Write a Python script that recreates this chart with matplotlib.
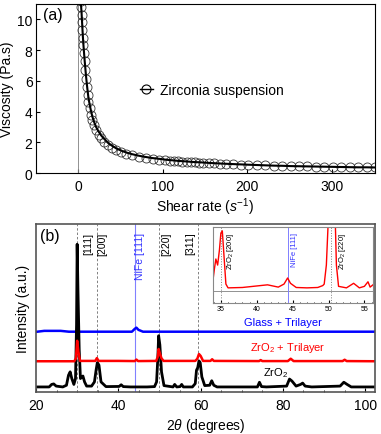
# 画图: (a) viscosity vs shear rate, (b) XRD patterns with inset
import numpy as np
import matplotlib.pyplot as plt
from matplotlib.lines import Line2D

plt.rcParams['font.family'] = ['Liberation Sans', 'DejaVu Sans']
plt.rcParams['mathtext.fontset'] = 'custom'
plt.rcParams['mathtext.rm'] = 'Liberation Sans'
plt.rcParams['mathtext.it'] = 'Liberation Sans:italic'
plt.rcParams['mathtext.bf'] = 'Liberation Sans:bold'

# (a) 粘度数据
shear_rate = [2.8, 3.3, 3.9, 4.4, 4.9, 5.4, 6.0, 6.7, 7.4, 8.2,
              9.0, 9.9, 10.9, 12.0, 13.3, 14.8, 16.5, 18.5, 21, 24,
              27, 31, 35, 40, 45, 51, 57, 64, 72, 80,
              88, 96, 103, 108, 113, 118, 123, 128, 133, 138,
              143, 148, 154, 160, 167, 175, 183, 192, 201, 211,
              221, 231, 241, 251, 261, 271, 281, 291, 301, 311,
              321, 331, 341, 351]
viscosity = [11.2, 10.8, 10.3, 9.8, 9.3, 8.8, 8.3, 7.8, 7.3, 6.7,
             6.1, 5.6, 5.1, 4.6, 4.2, 3.8, 3.45, 3.1, 2.8, 2.5,
             2.25, 2.0, 1.8, 1.62, 1.48, 1.35, 1.24, 1.14, 1.05, 0.98,
             0.92, 0.87, 0.83, 0.80, 0.78, 0.76, 0.74, 0.72, 0.70, 0.69,
             0.67, 0.66, 0.64, 0.63, 0.61, 0.59, 0.57, 0.55, 0.53, 0.51,
             0.50, 0.48, 0.47, 0.45, 0.44, 0.43, 0.42, 0.41, 0.40, 0.39,
             0.38, 0.37, 0.37, 0.36]
viscosity_fit = [11.3, 10.9, 10.4, 9.9, 9.4, 8.9, 8.4, 7.9, 7.4, 6.9,
                 6.4, 5.9, 5.4, 4.9, 4.5, 4.1, 3.7, 3.35, 3.0, 2.7,
                 2.45, 2.2, 1.97, 1.77, 1.6, 1.45, 1.33, 1.22, 1.12, 1.04,
                 0.97, 0.92, 0.87, 0.84, 0.82, 0.79, 0.77, 0.75, 0.73, 0.71,
                 0.70, 0.68, 0.66, 0.64, 0.62, 0.60, 0.58, 0.56, 0.54, 0.52,
                 0.50, 0.48, 0.47, 0.45, 0.44, 0.43, 0.42, 0.41, 0.40, 0.39,
                 0.38, 0.37, 0.37, 0.36]

# (b) XRD 数据 (任意单位)
theta_zro2 = [20, 23.2, 23.8, 24.3, 24.9, 26.5, 27.4, 27.9, 28.3, 28.7,
              29.2, 29.6, 29.85, 30.0, 30.2, 30.5, 30.8, 31.1, 31.4, 31.8,
              32.3, 33.5, 34.2, 34.6, 34.9, 35.3, 35.8, 37.0, 40.2, 40.7,
              41.2, 43.0, 47.0, 48.8, 49.3, 49.6, 49.8, 50.1, 50.5, 51.1,
              53.3, 53.7, 54.2, 55.0, 55.4, 55.8, 58.0, 58.7, 59.0, 59.3,
              59.6, 59.9, 60.3, 61.0, 62.2, 62.7, 63.2, 64.0, 66.0, 73.8,
              74.3, 74.8, 76.0, 80.9, 81.6, 82.2, 83.2, 84.3, 84.8, 85.4,
              87.0, 93.9, 94.8, 95.6, 96.6, 102.4]
int_zro2 = [3, 3, 4.5, 4.8, 3.5, 3, 4, 10, 12, 8,
            4.5, 8, 40, 88, 60, 25, 8, 9, 9.5, 6,
            3.5, 3.5, 6, 13, 17.5, 16, 6, 3.2, 3.3, 4.3,
            3.2, 3, 3, 3.2, 6, 20, 33.5, 28, 12, 3.8,
            3, 4.5, 3, 3.2, 4.5, 3, 3, 5, 13, 14.5,
            18.5, 17.5, 9, 3.8, 4, 6.7, 4, 3, 3, 3,
            5.8, 3.2, 3, 3.5, 7.7, 6.5, 3.5, 4.5, 5.3, 3.5,
            3, 3.5, 5.8, 4.5, 3, 3]

theta_zro2_tri = [20, 29.3, 29.7, 30.0, 30.3, 30.7, 34.4, 34.8, 35.2, 40,
                  44.0, 44.4, 44.8, 49.2, 49.6, 49.8, 50.1, 50.5, 51.0, 58.7,
                  59.2, 59.6, 60.0, 60.6, 62.4, 62.8, 63.2, 74.2, 74.6, 75.0,
                  81.2, 81.9, 82.6, 94.5, 95.0, 95.5, 102.4]
int_zro2_tri = [18.3, 18.3, 20, 30.5, 24, 18.5, 18.5, 20.2, 18.5, 18.5,
                18.4, 19.3, 18.4, 18.5, 21, 25.6, 23, 20, 18.5, 18.5,
                19.8, 22.6, 21.5, 18.5, 18.5, 19.5, 18.5, 18.4, 19.0, 18.4,
                18.4, 19.8, 18.4, 18.4, 19.2, 18.4, 18.3]

theta_glass = [20, 22, 26, 28, 43.3, 44.0, 44.4, 44.9, 46, 102.4]
int_glass = [35.8, 36.4, 36.4, 35.9, 35.9, 37.6, 38.3, 37, 35.9, 35.9]

peak_pos = [30.0, 34.8, 49.8, 59.3]
peak_labels = ['[111]', '[200]', '[220]', '[311]']
peak_label_x = [32.8, 36.2, 51.7, 57.4]
nife_pos = 44.1

# 插图数据
inset_theta = [33.9, 34.1, 34.3, 34.55, 34.8, 35.0, 35.2, 35.45, 35.7, 36.0,
               38.0, 40.0, 41.5, 43.0, 43.8, 44.3, 44.7, 45.5, 47.0, 48.5,
               49.2, 49.4, 49.7, 49.95, 50.5, 50.95, 51.1, 51.4, 52.5, 53.5,
               54.3, 55.0, 55.5, 55.8, 56.2]
inset_int = [30, 45, 58, 50, 70, 92, 95, 60, 25, 20,
             20.5, 22.5, 24, 21, 25, 33, 26, 20.5, 20, 20.5,
             23, 25, 50, 105, 140, 105, 50, 22, 20, 26,
             20, 22, 28, 21, 24]
inset_lines = [35.0, 50.3]
inset_nife = 44.3


def panel_a(ax):
    ax.axvline(0, color='gray', lw=0.6)
    ax.plot(shear_rate, viscosity, 'o', mfc='none', mec='#333333',
            ms=6.5, mew=0.6)
    ax.plot(shear_rate, viscosity_fit, 'k-', lw=1.5)
    ax.set_xlim(-50, 351)
    ax.set_ylim(0, 11)
    ax.set_xticks([0, 100, 200, 300])
    ax.set_yticks([0, 2, 4, 6, 8, 10])
    ax.tick_params(direction='in', length=3, labelsize=10)
    ax.tick_params(axis='x', pad=4.5)
    ax.tick_params(axis='y', pad=2.5)
    ax.set_xlabel('Shear rate ($s^{-1}$)', fontsize=10, labelpad=1.5)
    ax.set_ylabel('Viscosity (Pa.s)', fontsize=10, labelpad=2)
    ax.text(0.02, 0.94, '(a)', transform=ax.transAxes, fontsize=11.5,
            va='center', ha='left')
    h = Line2D([], [], color='k', lw=1, marker='o', mfc='none',
               mec='k', ms=6.5, mew=0.8)
    ax.legend([h], ['Zirconia suspension'], loc='center left',
              bbox_to_anchor=(0.27, 0.49), frameon=False, fontsize=10,
              handlelength=0.9, handletextpad=0.5)


def panel_b(ax):
    tr = ax.get_xaxis_transform()
    for p in peak_pos:
        ax.axvline(p, color='gray', lw=0.7, ls=(0, (2.5, 2)))
    ax.axvline(nife_pos, color='#8080ff', lw=0.8)
    for x, s in zip(peak_label_x, peak_labels):
        ax.text(x, 0.955, s, transform=tr, rotation=90, ha='center',
                va='top', fontsize=7.5)
    ax.text(45.3, 0.955, 'NiFe [111]', transform=tr, rotation=90,
            ha='center', va='top', fontsize=7.5, color='#3333ff')

    ax.plot(theta_glass, int_glass, color='#0000ff', lw=1.8)
    ax.plot(theta_zro2, int_zro2, color='k', lw=2.0)
    ax.plot(theta_zro2_tri, int_zro2_tri, color='#ff0000', lw=1.8)

    ax.text(80.0, 41.8, 'Glass + Trilayer', color='#0000ff', fontsize=8,
            ha='center', va='center')
    ax.text(81.2, 26.6, 'ZrO$_2$ + Trilayer', color='#ff0000', fontsize=8,
            ha='center', va='center')
    ax.text(78.1, 11.7, 'ZrO$_2$', color='k', fontsize=8,
            ha='center', va='center')
    ax.text(0.041, 0.93, '(b)', transform=ax.transAxes, fontsize=11.5,
            va='center', ha='center')

    ax.set_xlim(20, 102.4)
    ax.set_ylim(0, 100)
    ax.set_xticks([20, 40, 60, 80, 100])
    ax.set_xticks(np.arange(25, 102, 5), minor=True)
    ax.set_yticks([])
    ax.tick_params(direction='in', length=3, labelsize=10, pad=4.5)
    ax.tick_params(which='minor', direction='in', length=1.5)
    ax.set_xlabel(r'2$\theta$ (degrees)', fontsize=10, labelpad=2.5)
    ax.set_ylabel('Intensity (a.u.)', fontsize=10, labelpad=4)
    for s in ax.spines.values():
        s.set_color('#555555')
        s.set_linewidth(1.2)


def inset(ax):
    tr = ax.get_xaxis_transform()
    ax.axhline(15.4, color='gray', lw=0.6)
    for p in inset_lines:
        ax.axvline(p, color='gray', lw=0.7, ls=':')
    ax.axvline(inset_nife, color='#8080ff', lw=0.7)
    ax.plot(inset_theta, inset_int, color='#ff0000', lw=1.0)
    ax.text(36.4, 0.93, 'ZrO$_2$ [200]', transform=tr, rotation=90,
            ha='center', va='top', fontsize=5.5)
    ax.text(45.2, 0.93, 'NiFe [111]', transform=tr, rotation=90,
            ha='center', va='top', fontsize=5.5, color='#3333ff')
    ax.text(51.9, 0.93, 'ZrO$_2$ [220]', transform=tr, rotation=90,
            ha='center', va='top', fontsize=5.5)
    ax.set_xlim(33.9, 56.2)
    ax.set_ylim(0, 100)
    ax.set_xticks([35, 40, 45, 50, 55])
    ax.set_xticks(np.arange(34, 57, 1), minor=True)
    ax.set_yticks([])
    ax.tick_params(direction='in', length=2, labelsize=5, pad=1.5)
    ax.tick_params(which='minor', direction='in', length=1)
    for s in ax.spines.values():
        s.set_color('#888888')
        s.set_linewidth(0.8)


fig = plt.figure(figsize=(3.81, 4.35), dpi=100)
ax1 = fig.add_axes([0.0945, 0.600, 0.890, 0.3885])
ax2 = fig.add_axes([0.0945, 0.0966, 0.890, 0.386])
ax3 = fig.add_axes([0.559, 0.301, 0.420, 0.1747])
panel_a(ax1)
panel_b(ax2)
inset(ax3)
fig.savefig('out.png', dpi=100)
